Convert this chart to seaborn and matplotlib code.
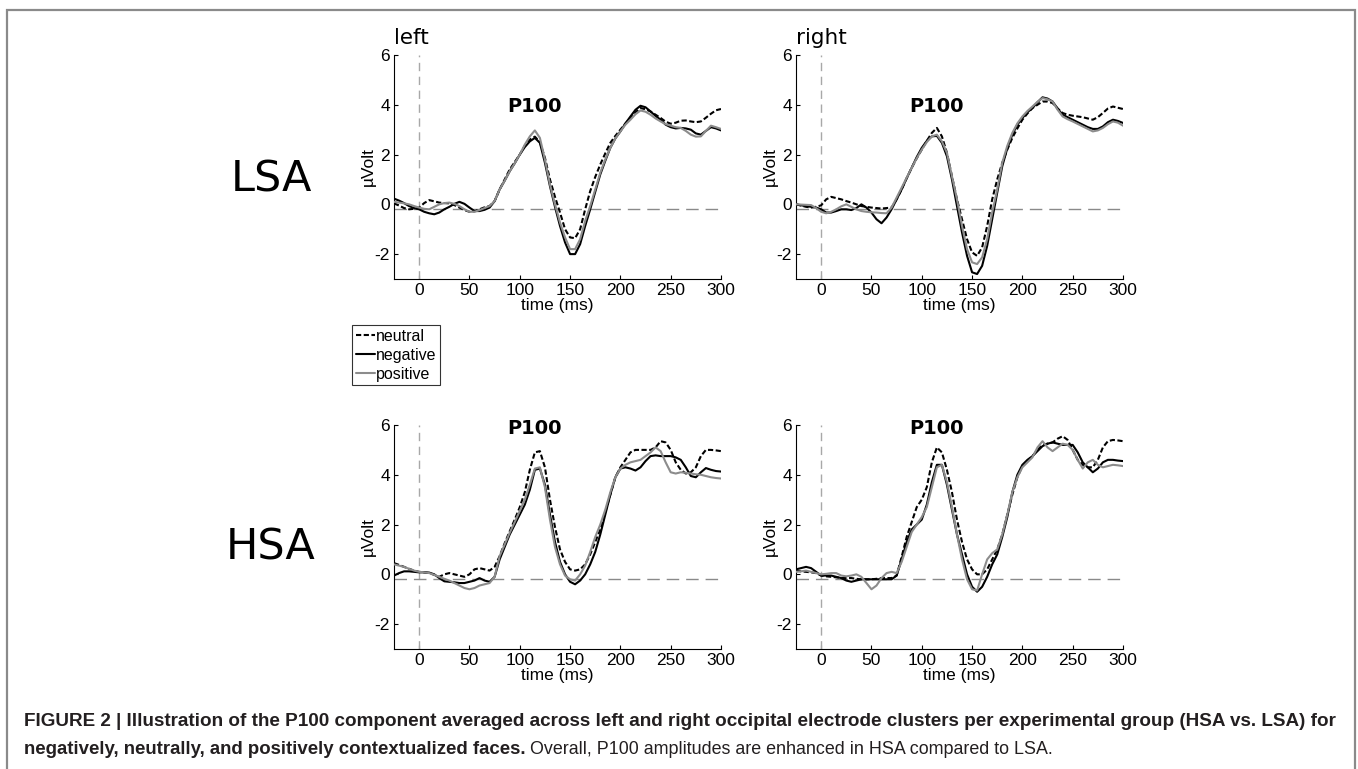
import numpy as np
import pandas as pd
import seaborn as sns
import matplotlib.pyplot as plt
from matplotlib.lines import Line2D
from matplotlib.patches import Rectangle

# time axis, 5 ms steps
time_ms = list(range(-25, 301, 5))

# LSA, left cluster
lsa_left_negative = [
    0.23, 0.15, 0.05, -0.07, -0.15, -0.2, -0.3, -0.36, -0.4, -0.33,
    -0.2, -0.1, 0.02, 0.1, 0.02, -0.13, -0.27, -0.27, -0.22, -0.13,
    0.13, 0.6, 0.95, 1.33, 1.65, 2.0, 2.3, 2.53, 2.67, 2.47,
    1.67, 0.73, -0.1, -0.87, -1.53, -2.0, -2.0, -1.6, -0.87, -0.2,
    0.5, 1.2, 1.75, 2.27, 2.65, 2.93, 3.25, 3.53, 3.8, 3.96,
    3.9, 3.73, 3.55, 3.4, 3.2, 3.1, 3.05, 3.07, 3.05, 3.0,
    2.85, 2.8, 2.95, 3.1, 3.05, 2.97]
lsa_left_positive = [
    0.1, 0.07, 0.04, 0.0, -0.07, -0.13, -0.18, -0.2, -0.1, 0.0,
    0.05, 0.07, 0.02, -0.07, -0.2, -0.3, -0.3, -0.23, -0.15, -0.07,
    0.13, 0.6, 0.95, 1.33, 1.65, 2.0, 2.4, 2.73, 2.97, 2.67,
    1.8, 0.8, 0.0, -0.73, -1.33, -1.8, -1.8, -1.4, -0.67, -0.07,
    0.6, 1.27, 1.8, 2.27, 2.65, 2.93, 3.2, 3.4, 3.62, 3.77,
    3.72, 3.6, 3.45, 3.33, 3.22, 3.16, 3.1, 3.07, 2.95, 2.8,
    2.72, 2.73, 2.95, 3.16, 3.1, 3.03]
lsa_left_neutral = [
    0.04, -0.05, -0.15, -0.2, -0.18, -0.13, 0.05, 0.17, 0.12, 0.07,
    0.05, 0.04, -0.03, -0.13, -0.23, -0.3, -0.28, -0.2, -0.12, -0.07,
    0.13, 0.6, 1.0, 1.4, 1.7, 2.0, 2.35, 2.6, 2.72, 2.5,
    1.87, 1.0, 0.3, -0.33, -1.0, -1.33, -1.36, -1.0, -0.2, 0.53,
    1.1, 1.6, 2.05, 2.47, 2.75, 3.0, 3.25, 3.47, 3.7, 3.87,
    3.82, 3.73, 3.6, 3.47, 3.32, 3.24, 3.28, 3.36, 3.37, 3.33,
    3.3, 3.33, 3.48, 3.64, 3.78, 3.83]

# LSA, right cluster
lsa_right_negative = [
    0.0, -0.04, -0.07, -0.1, -0.13, -0.2, -0.33, -0.33, -0.27, -0.2,
    -0.2, -0.23, -0.15, 0.0, -0.13, -0.33, -0.6, -0.76, -0.53, -0.2,
    0.2, 0.6, 1.05, 1.47, 1.9, 2.27, 2.55, 2.73, 2.75, 2.47,
    1.93, 1.0, -0.07, -1.13, -2.07, -2.73, -2.8, -2.47, -1.67, -0.6,
    0.47, 1.53, 2.25, 2.8, 3.2, 3.47, 3.7, 3.87, 4.1, 4.3,
    4.25, 4.13, 3.85, 3.6, 3.5, 3.4, 3.3, 3.2, 3.1, 3.03,
    3.03, 3.13, 3.3, 3.4, 3.35, 3.27]
lsa_right_positive = [
    0.0, -0.01, -0.02, -0.03, -0.15, -0.3, -0.36, -0.3, -0.2, -0.08,
    0.0, -0.1, -0.2, -0.27, -0.3, -0.32, -0.33, -0.35, -0.36, -0.13,
    0.27, 0.67, 1.07, 1.47, 1.85, 2.2, 2.5, 2.73, 2.8, 2.53,
    2.07, 1.13, 0.2, -0.87, -1.8, -2.33, -2.4, -2.13, -1.4, -0.33,
    0.6, 1.67, 2.35, 2.87, 3.25, 3.53, 3.75, 3.93, 4.12, 4.27,
    4.22, 4.13, 3.8, 3.53, 3.42, 3.33, 3.23, 3.13, 3.03, 2.93,
    2.97, 3.07, 3.22, 3.33, 3.28, 3.16]
lsa_right_neutral = [
    0.0, -0.05, -0.1, -0.13, -0.1, -0.04, 0.2, 0.3, 0.25, 0.2,
    0.13, 0.07, 0.0, -0.07, -0.1, -0.13, -0.15, -0.17, -0.15, -0.13,
    0.2, 0.6, 1.05, 1.47, 1.85, 2.2, 2.55, 2.87, 3.07, 2.73,
    2.07, 1.13, 0.2, -0.6, -1.4, -1.93, -2.07, -1.73, -0.87, 0.2,
    1.0, 1.67, 2.2, 2.67, 3.05, 3.4, 3.65, 3.87, 4.0, 4.13,
    4.13, 4.07, 3.85, 3.67, 3.6, 3.56, 3.53, 3.5, 3.45, 3.4,
    3.5, 3.67, 3.85, 3.93, 3.88, 3.83]

# HSA, left cluster
hsa_left_negative = [
    -0.05, 0.05, 0.12, 0.12, 0.1, 0.08, 0.08, 0.07, 0.0, -0.15,
    -0.28, -0.3, -0.32, -0.35, -0.35, -0.3, -0.25, -0.15, -0.25, -0.3,
    -0.1, 0.6, 1.1, 1.6, 2.0, 2.4, 2.8, 3.4, 4.2, 4.25,
    3.6, 2.4, 1.3, 0.5, 0.0, -0.3, -0.4, -0.25, 0.0, 0.4,
    0.9, 1.6, 2.4, 3.2, 3.9, 4.25, 4.3, 4.25, 4.17, 4.3,
    4.55, 4.75, 4.78, 4.75, 4.75, 4.75, 4.7, 4.6, 4.3, 3.95,
    3.9, 4.1, 4.27, 4.2, 4.15, 4.13]
hsa_left_positive = [
    0.4, 0.35, 0.3, 0.22, 0.15, 0.1, 0.08, 0.05, -0.02, -0.1,
    -0.18, -0.25, -0.35, -0.45, -0.55, -0.6, -0.55, -0.45, -0.4, -0.35,
    -0.1, 0.73, 1.2, 1.67, 2.1, 2.55, 3.0, 3.6, 4.25, 4.3,
    3.5, 2.2, 1.1, 0.4, -0.05, -0.2, -0.25, 0.0, 0.35, 0.9,
    1.5, 2.0, 2.6, 3.3, 3.9, 4.25, 4.4, 4.5, 4.55, 4.6,
    4.75, 4.9, 5.1, 4.95, 4.5, 4.1, 4.05, 4.1, 4.08, 4.05,
    4.02, 4.0, 3.95, 3.9, 3.87, 3.85]
hsa_left_neutral = [
    0.45, 0.38, 0.3, 0.22, 0.15, 0.1, 0.08, 0.05, -0.02, -0.1,
    0.0, 0.05, 0.0, -0.05, -0.1, 0.0, 0.2, 0.25, 0.2, 0.15,
    0.3, 0.73, 1.25, 1.73, 2.2, 2.7, 3.3, 4.2, 4.9, 4.95,
    4.3, 3.0, 1.9, 1.0, 0.5, 0.2, 0.15, 0.2, 0.4, 0.8,
    1.3, 1.8, 2.5, 3.2, 3.9, 4.3, 4.6, 4.9, 5.0, 5.0,
    5.0, 5.0, 5.1, 5.35, 5.3, 5.0, 4.5, 4.2, 4.05, 4.1,
    4.3, 4.75, 5.0, 5.0, 4.98, 4.95]

# HSA, right cluster
hsa_right_negative = [
    0.2, 0.25, 0.3, 0.25, 0.1, -0.05, -0.05, -0.05, -0.1, -0.15,
    -0.25, -0.3, -0.25, -0.2, -0.2, -0.2, -0.2, -0.2, -0.2, -0.2,
    -0.05, 0.6, 1.3, 1.8, 2.0, 2.2, 2.8, 3.7, 4.4, 4.4,
    3.6, 2.6, 1.6, 0.8, 0.0, -0.5, -0.7, -0.5, -0.1, 0.4,
    0.8, 1.5, 2.3, 3.3, 4.0, 4.4, 4.6, 4.75, 4.95, 5.15,
    5.25, 5.3, 5.25, 5.2, 5.2, 5.2, 4.9, 4.5, 4.3, 4.1,
    4.25, 4.5, 4.6, 4.6, 4.57, 4.55]
hsa_right_positive = [
    0.1, 0.12, 0.15, 0.1, 0.05, 0.0, 0.02, 0.05, 0.05, -0.05,
    -0.08, -0.05, 0.0, -0.1, -0.35, -0.6, -0.45, -0.15, 0.05, 0.1,
    0.05, 0.5, 1.1, 1.7, 2.0, 2.3, 2.7, 3.5, 4.3, 4.4,
    3.7, 2.7, 1.6, 0.6, -0.2, -0.6, -0.65, 0.0, 0.6, 0.85,
    1.0, 1.6, 2.4, 3.3, 3.9, 4.3, 4.5, 4.7, 5.1, 5.35,
    5.1, 4.95, 5.1, 5.25, 5.2, 5.0, 4.6, 4.25, 4.5, 4.6,
    4.4, 4.3, 4.35, 4.4, 4.38, 4.35]
hsa_right_neutral = [
    0.15, 0.12, 0.1, 0.08, 0.05, -0.05, -0.08, -0.1, -0.12, -0.15,
    -0.15, -0.15, -0.18, -0.2, -0.2, -0.2, -0.18, -0.15, -0.15, -0.15,
    -0.05, 0.7, 1.5, 2.1, 2.7, 3.0, 3.5, 4.5, 5.1, 4.9,
    4.2, 3.3, 2.2, 1.3, 0.6, 0.2, 0.0, 0.0, 0.2, 0.6,
    1.0, 1.6, 2.4, 3.2, 3.9, 4.35, 4.55, 4.75, 5.0, 5.2,
    5.25, 5.3, 5.45, 5.55, 5.4, 5.0, 4.6, 4.4, 4.3, 4.3,
    4.6, 5.1, 5.35, 5.4, 5.38, 5.35]

conditions = ["neutral", "negative", "positive"]
groups = ["LSA", "HSA"]
sides = ["left", "right"]
xticks = [0, 50, 100, 150, 200, 250, 300]
yticks = [-2, 0, 2, 4, 6]

series = {
    ("LSA", "left"): [lsa_left_neutral, lsa_left_negative, lsa_left_positive],
    ("LSA", "right"): [lsa_right_neutral, lsa_right_negative, lsa_right_positive],
    ("HSA", "left"): [hsa_left_neutral, hsa_left_negative, hsa_left_positive],
    ("HSA", "right"): [hsa_right_neutral, hsa_right_negative, hsa_right_positive],
}

rows = []
for (g, s), vals in series.items():
    for cond, v in zip(conditions, vals):
        for t, a in zip(time_ms, v):
            rows.append((g, s, cond, t, a))
df = pd.DataFrame(rows, columns=["group", "side", "condition", "time", "uV"])

sns.set_style("ticks", {"xtick.direction": "in", "ytick.direction": "in"})
plt.rcParams["font.family"] = ["Liberation Sans", "DejaVu Sans"]
plt.rcParams["axes.unicode_minus"] = False
plt.rcParams["text.color"] = "black"
plt.rcParams["axes.labelcolor"] = "black"
plt.rcParams["xtick.labelcolor"] = "black"
plt.rcParams["ytick.labelcolor"] = "black"

palette = {"neutral": "black", "negative": "black", "positive": "#8c8c8c"}
dashes = {"neutral": (2.5, 1.2), "negative": "", "positive": ""}

fig = plt.figure(figsize=(13.58, 7.69), dpi=100)

W, H = 1358, 769
ax_w, ax_h = 327 / W, 224 / H
lefts = {"left": 394 / W, "right": 796 / W}
bottoms = {"LSA": (H - 279) / H, "HSA": (H - 649) / H}
p100_y = {"LSA": 3.95, "HSA": 5.85}

for g in groups:
    for s in sides:
        ax = fig.add_axes([lefts[s], bottoms[g], ax_w, ax_h])
        sub = df[(df.group == g) & (df.side == s)]
        ax.axvline(0, color="#a8a8a8", lw=1, dashes=(6, 4), zorder=1)
        ax.axhline(-0.18, color="#8a8a8a", lw=1, dashes=(9, 5), zorder=1)
        sns.lineplot(data=sub, x="time", y="uV", hue="condition", style="condition",
                     hue_order=conditions, palette=palette, dashes=dashes,
                     estimator=None, lw=1.5, legend=False, ax=ax, zorder=3)
        ax.set_xlim(-25, 300)
        ax.set_ylim(-3, 6)
        ax.set_xticks(xticks)
        ax.set_yticks(yticks)
        ax.tick_params(length=3, width=0.8, labelsize=12.5, pad=3, color="black")
        ax.set_xlabel("time (ms)", fontsize=12.5, labelpad=0)
        ax.set_ylabel("µVolt", fontsize=12.5, labelpad=-1)
        for sp in ["left", "bottom"]:
            ax.spines[sp].set_color("black")
            ax.spines[sp].set_linewidth(0.8)
        sns.despine(ax=ax)
        ax.text(115, p100_y[g], "P100", fontsize=14, fontweight="bold",
                family="DejaVu Sans", ha="center", va="center")
        if g == "LSA":
            ax.text(-25, 6.3, s, fontsize=15.5, family="DejaVu Sans",
                    ha="left", va="bottom")

# group labels
fig.text(271 / W, 1 - 179 / H, "LSA", fontsize=31, family="DejaVu Sans",
         ha="center", va="center")
fig.text(271 / W, 1 - 548 / H, "HSA", fontsize=31, family="DejaVu Sans",
         ha="center", va="center")

# legend
handles = [Line2D([], [], color="black", lw=1.5, dashes=(2.5, 1.2)),
           Line2D([], [], color="black", lw=1.5),
           Line2D([], [], color="#8c8c8c", lw=1.5)]
leg = fig.legend(handles, conditions, loc="upper left",
                 bbox_to_anchor=(352 / W, 1 - 325 / H), fontsize=11.5,
                 frameon=True, fancybox=False, edgecolor="black",
                 handlelength=1.2, handletextpad=0.1, borderpad=0.22,
                 labelspacing=0.25, borderaxespad=0)
leg.get_frame().set_linewidth(0.8)

# outer frame
fig.patches.append(Rectangle((7 / W, -0.05), (1355 - 7) / W, 1.05 - 10 / H,
                             transform=fig.transFigure, fill=False,
                             edgecolor="#8a8a8a", lw=1.6))

# caption
cap_color = "#231f20"
fig.text(24 / W, 1 - 722 / H,
         "FIGURE 2 | Illustration of the P100 component averaged across left and right "
         "occipital electrode clusters per experimental group (HSA vs. LSA) for",
         fontsize=13.6, fontweight="bold", color=cap_color, va="center", ha="left")
t_bold = fig.text(24 / W, 1 - 750 / H,
                  "negatively, neutrally, and positively contextualized faces.",
                  fontsize=13.4, fontweight="bold", color=cap_color, va="center", ha="left")
fig.canvas.draw()
bb = t_bold.get_window_extent(fig.canvas.get_renderer())
fig.text(bb.x1 / W + 4 / W, 1 - 750 / H,
         "Overall, P100 amplitudes are enhanced in HSA compared to LSA.",
         fontsize=12.9, color=cap_color, va="center", ha="left")

fig.savefig("out.png", dpi=100)
